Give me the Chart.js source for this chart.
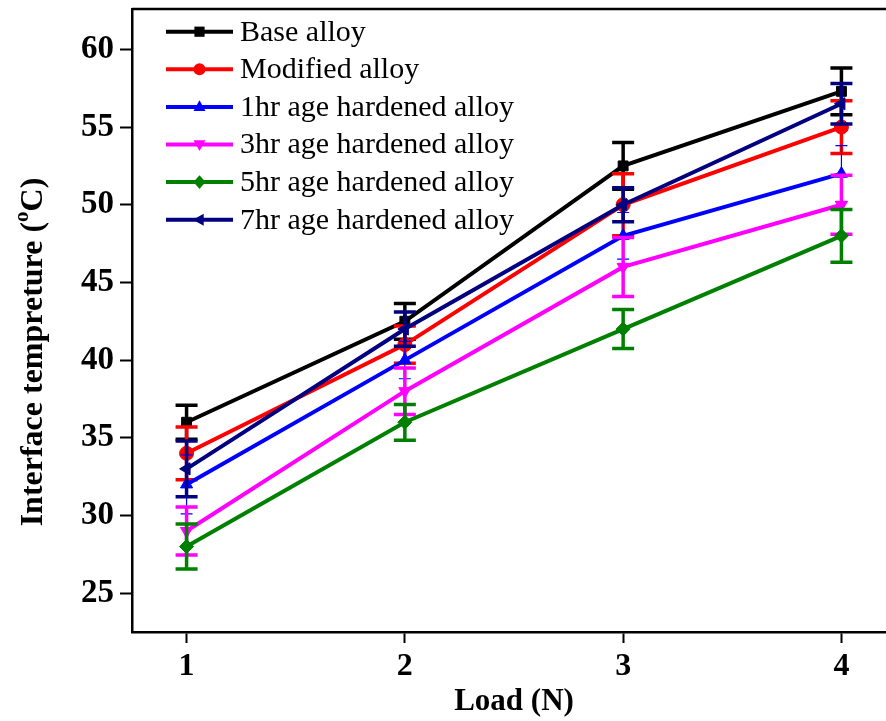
<!DOCTYPE html>
<html><head><meta charset="utf-8">
<script src="https://cdn.jsdelivr.net/npm/chart.js@4.4.1/dist/chart.umd.min.js"></script>
<style>html,body{margin:0;padding:0;background:#fff;overflow:hidden}#wrap{width:904px;height:721px}</style>
</head><body><div id="wrap"><canvas id="c" width="904" height="721"></canvas></div>
<script>
// ---- data ----
const loads = [1, 2, 3, 4];
const xTickValues = [1, 2, 3, 4];
const yTickValues = [25, 30, 35, 40, 45, 50, 55, 60];
const seriesNames = ["Base alloy", "Modified alloy", "1hr age hardened alloy", "3hr age hardened alloy", "5hr age hardened alloy", "7hr age hardened alloy"];
const baseAlloy = [36.0, 42.5, 52.5, 57.3];
const baseAlloyErr = [1.1, 1.15, 1.5, 1.5];
const modifiedAlloy = [34.0, 41.0, 50.0, 55.0];
const modifiedAlloyErr = [1.7, 1.2, 2.0, 1.7];
const aged1hr = [32.0, 40.0, 48.0, 52.0];
const aged1hrErr = [1.9, 1.2, 1.5, 1.8];
const aged3hr = [29.0, 38.0, 46.0, 50.0];
const aged3hrErr = [1.55, 1.5, 1.9, 1.9];
const aged5hr = [28.0, 36.0, 42.0, 48.0];
const aged5hrErr = [1.45, 1.15, 1.25, 1.7];
const aged7hr = [33.0, 42.0, 50.0, 56.5];
const aged7hrErr = [1.8, 1.1, 1.1, 1.3];

const seriesValues = [baseAlloy, modifiedAlloy, aged1hr, aged3hr, aged5hr, aged7hr];
const seriesErrors = [baseAlloyErr, modifiedAlloyErr, aged1hrErr, aged3hrErr, aged5hrErr, aged7hrErr];
const seriesColors = ["#000000", "#ff0000", "#0000ff", "#ff00ff", "#008000", "#000080"];
const seriesStyles = [["rect", 0], ["circle", 0], ["triangle", 0], ["triangle", 180], ["rectRot", 0], ["triangle", 270]];
const errLineWidths = [3.5, 3.5, 1.2, 3.5, 3.5, 3.5];
const errCapHalf = [11, 11, 6, 11, 11, 11];

const SERIF = "'Liberation Serif','Times New Roman',serif";

const datasets = seriesNames.map((name, i) => ({
  label: name,
  data: loads.map((x, j) => ({ x: x, y: seriesValues[i][j] })),
  errors: seriesErrors[i],
  borderColor: seriesColors[i],
  backgroundColor: seriesColors[i],
  borderWidth: 4,
  pointStyle: seriesStyles[i][0],
  rotation: seriesStyles[i][1],
  pointRadius: 7,
  pointBorderWidth: 1,
  tension: 0,
  order: seriesNames.length - i,
  errW: errLineWidths[i],
  errCap: errCapHalf[i]
}));

function drawMarker(ctx, style, rot, r, x, y, color) {
  ctx.save();
  ctx.translate(x, y);
  ctx.rotate(rot * Math.PI / 180);
  ctx.fillStyle = color;
  ctx.beginPath();
  if (style === "rect") {
    ctx.rect(-r * 0.85, -r * 0.85, r * 1.7, r * 1.7);
  } else if (style === "circle") {
    ctx.arc(0, 0, r, 0, Math.PI * 2);
  } else if (style === "triangle") {
    ctx.moveTo(0, -r * 1.1); ctx.lineTo(r, r * 0.7); ctx.lineTo(-r, r * 0.7); ctx.closePath();
  } else if (style === "rectRot") {
    ctx.moveTo(0, -r * 1.15); ctx.lineTo(r, 0); ctx.lineTo(0, r * 1.15); ctx.lineTo(-r, 0); ctx.closePath();
  }
  ctx.fill();
  ctx.restore();
}

const errorBars = {
  id: "errorBars",
  afterDatasetDraw(chart, args) {
    const ds = chart.data.datasets[args.index];
    const ys = chart.scales.y;
    const ctx = chart.ctx;
    ctx.save();
    ctx.strokeStyle = ds.borderColor;
    ctx.lineWidth = ds.errW;
    args.meta.data.forEach((el, j) => {
      const v = ds.data[j].y, e = ds.errors[j];
      const yt = ys.getPixelForValue(v + e), yb = ys.getPixelForValue(v - e);
      ctx.beginPath();
      ctx.moveTo(el.x, yt); ctx.lineTo(el.x, yb);
      ctx.moveTo(el.x - ds.errCap, yt); ctx.lineTo(el.x + ds.errCap, yt);
      ctx.moveTo(el.x - ds.errCap, yb); ctx.lineTo(el.x + ds.errCap, yb);
      ctx.stroke();
    });
    ctx.restore();
  }
};

const decorations = {
  id: "decorations",
  afterDraw(chart) {
    const ctx = chart.ctx, a = chart.chartArea;
    ctx.save();
    // frame top & right
    ctx.strokeStyle = "#000"; ctx.lineWidth = 2.5;
    ctx.beginPath();
    ctx.moveTo(a.left, a.top); ctx.lineTo(a.right, a.top); ctx.lineTo(a.right, a.bottom);
    ctx.stroke();
    // legend
    chart.data.datasets.forEach((ds, i) => {
      const y = 31.7 + 37.6 * i;
      ctx.strokeStyle = ds.borderColor; ctx.lineWidth = 4;
      ctx.beginPath(); ctx.moveTo(166, y); ctx.lineTo(233, y); ctx.stroke();
      drawMarker(ctx, ds.pointStyle, ds.rotation, 6, 199.5, y, ds.borderColor);
      ctx.fillStyle = "#000";
      ctx.font = "30px " + SERIF;
      ctx.textBaseline = "middle"; ctx.textAlign = "left";
      ctx.fillText(ds.label, 240, y + 1);
    });
    // y axis title with superscript
    ctx.translate(34, 352);
    ctx.rotate(-Math.PI / 2);
    ctx.fillStyle = "#000";
    ctx.textBaseline = "middle"; ctx.textAlign = "left";
    const big = "bold 32px " + SERIF, small = "bold 21px " + SERIF;
    const p1 = "Interface tempreture (", p2 = "o", p3 = "C)";
    ctx.font = big; const w1 = ctx.measureText(p1).width, w3 = ctx.measureText(p3).width;
    ctx.font = small; const w2 = ctx.measureText(p2).width;
    let x0 = -(w1 + w2 + w3) / 2;
    ctx.font = big; ctx.fillText(p1, x0, 0); x0 += w1;
    ctx.font = small; ctx.fillText(p2, x0, -11); x0 += w2;
    ctx.font = big; ctx.fillText(p3, x0, 0);
    ctx.restore();
  }
};

new Chart(document.getElementById("c"), {
  type: "line",
  data: { datasets: datasets },
  options: {
    responsive: false,
    animation: false,
    devicePixelRatio: 1,
    layout: { padding: { top: 9, right: 0.5, left: 0, bottom: 0 } },
    plugins: { legend: { display: false }, tooltip: { enabled: false } },
    scales: {
      x: {
        type: "linear", min: 0.75, max: 4.25,
        afterBuildTicks: s => { s.ticks = xTickValues.map(v => ({ value: v })); },
        afterFit: s => { s.height = 89; s.paddingLeft = 0; s.paddingRight = 0; },
        grid: { drawOnChartArea: false, tickLength: 11, tickWidth: 2, tickColor: "#000" },
        border: { display: true, color: "#000", width: 2.5 },
        ticks: { color: "#000", font: { family: SERIF, size: 32, weight: "bold" }, padding: 5, maxRotation: 0 },
        title: { display: true, text: "Load (N)", color: "#000", font: { family: SERIF, size: 31, weight: "bold" }, padding: { top: 0, bottom: 0 } }
      },
      y: {
        type: "linear", min: 22.5, max: 62.6,
        afterBuildTicks: s => { s.ticks = yTickValues.map(v => ({ value: v })); },
        afterFit: s => { s.width = 132; s.paddingTop = 0; s.paddingBottom = 0; },
        grid: { drawOnChartArea: false, tickLength: 12, tickWidth: 2, tickColor: "#000" },
        border: { display: true, color: "#000", width: 2.5 },
        ticks: { color: "#000", font: { family: SERIF, size: 33, weight: "bold" }, padding: 6 }
      }
    }
  },
  plugins: [errorBars, decorations]
});
</script></body></html>
